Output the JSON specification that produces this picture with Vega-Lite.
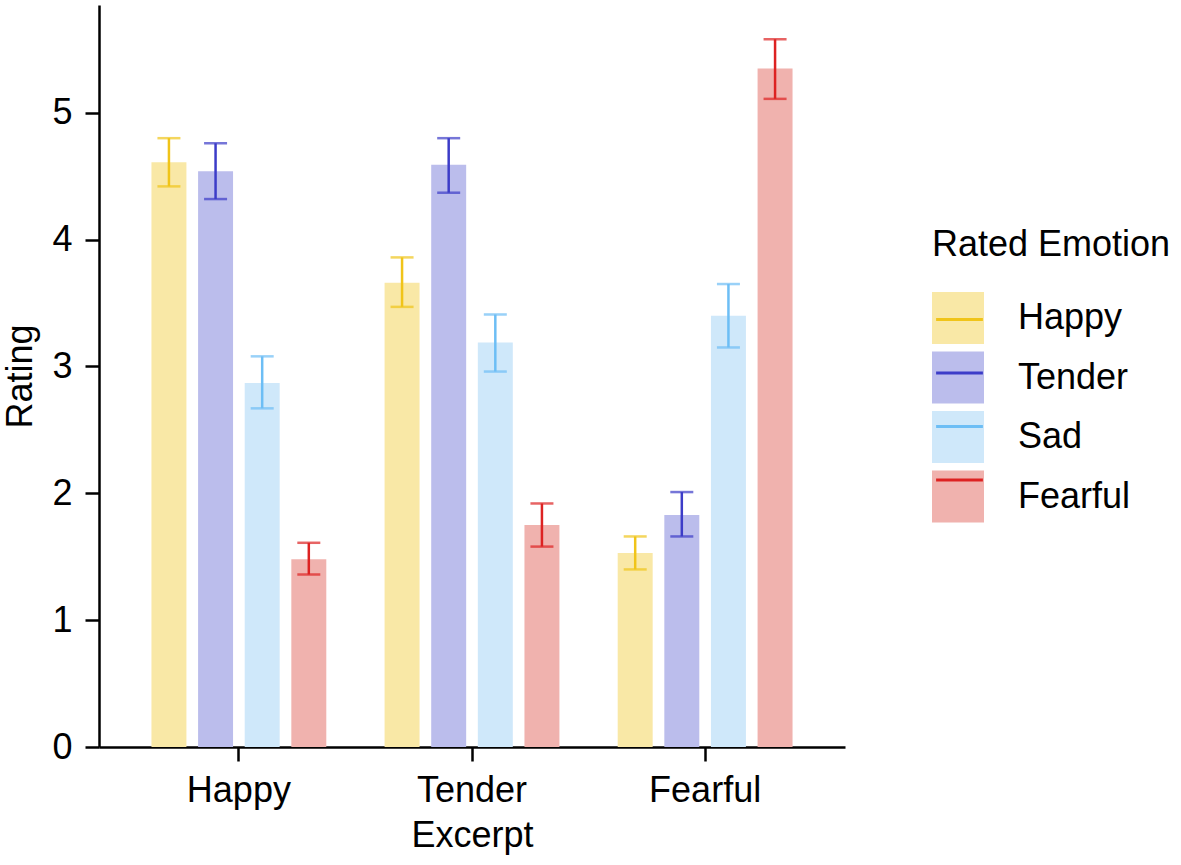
{
  "$schema": "https://vega.github.io/schema/vega-lite/v6.json",
  "autosize": "none",
  "width": 746,
  "height": 742,
  "padding": {"left": 99, "top": 5, "right": 336, "bottom": 118},
  "data": {
    "values": [
      {"excerpt": "Happy", "emotion": "Happy", "mean": 4.61, "lo": 4.42, "hi": 4.80},
      {"excerpt": "Happy", "emotion": "Tender", "mean": 4.54, "lo": 4.32, "hi": 4.76},
      {"excerpt": "Happy", "emotion": "Sad", "mean": 2.87, "lo": 2.67, "hi": 3.08},
      {"excerpt": "Happy", "emotion": "Fearful", "mean": 1.48, "lo": 1.36, "hi": 1.61},
      {"excerpt": "Tender", "emotion": "Happy", "mean": 3.66, "lo": 3.47, "hi": 3.86},
      {"excerpt": "Tender", "emotion": "Tender", "mean": 4.59, "lo": 4.37, "hi": 4.80},
      {"excerpt": "Tender", "emotion": "Sad", "mean": 3.19, "lo": 2.96, "hi": 3.41},
      {"excerpt": "Tender", "emotion": "Fearful", "mean": 1.75, "lo": 1.58, "hi": 1.92},
      {"excerpt": "Fearful", "emotion": "Happy", "mean": 1.53, "lo": 1.40, "hi": 1.66},
      {"excerpt": "Fearful", "emotion": "Tender", "mean": 1.83, "lo": 1.66, "hi": 2.01},
      {"excerpt": "Fearful", "emotion": "Sad", "mean": 3.40, "lo": 3.15, "hi": 3.65},
      {"excerpt": "Fearful", "emotion": "Fearful", "mean": 5.35, "lo": 5.11, "hi": 5.58}
    ]
  },
  "encoding": {
    "x": {
      "field": "excerpt",
      "type": "nominal",
      "sort": ["Happy", "Tender", "Fearful"],
      "scale": {"paddingInner": 0.2, "paddingOuter": 0.2},
      "axis": {"title": "Excerpt", "labelAngle": 0, "labelPadding": 12, "titlePadding": 10}
    },
    "xOffset": {
      "field": "emotion",
      "type": "nominal",
      "sort": ["Happy", "Tender", "Sad", "Fearful"],
      "scale": {"paddingInner": 0.25, "paddingOuter": 0.125}
    }
  },
  "layer": [
    {
      "mark": {"type": "bar", "strokeWidth": 0},
      "encoding": {
        "y": {
          "field": "mean",
          "type": "quantitative",
          "scale": {"domain": [0, 5.85], "nice": false},
          "axis": {"title": "Rating", "values": [0, 1, 2, 3, 4, 5], "format": "d", "labelPadding": 13, "titlePadding": 12}
        },
        "fill": {
          "field": "emotion",
          "type": "nominal",
          "scale": {
            "domain": ["Happy", "Tender", "Sad", "Fearful"],
            "range": ["#F9E8A6", "#BBBDEC", "#CFE8FA", "#F0B2AE"]
          },
          "legend": {
            "title": "Rated Emotion",
            "titleLimit": 400,
            "orient": "none",
            "legendX": 833,
            "legendY": 223,
            "symbolType": "square",
            "symbolSize": 2704,
            "symbolStrokeWidth": 0,
            "rowPadding": 7.5,
            "labelOffset": 34,
            "titlePadding": 28,
            "padding": 0
          }
        }
      }
    },
    {
      "mark": {"type": "rule", "strokeWidth": 2.5},
      "encoding": {
        "y": {"field": "lo", "type": "quantitative"},
        "y2": {"field": "hi"},
        "stroke": {
          "field": "emotion",
          "type": "nominal",
          "sort": null,
          "scale": {"range": ["#F0C419", "#3C3CC8", "#6DBEF5", "#DD2222"]},
          "legend": {
            "title": " ",
            "orient": "none",
            "legendX": 833,
            "legendY": 223,
            "symbolType": "M-0.9,0H0.9",
            "symbolSize": 2704,
            "symbolStrokeWidth": 3,
            "rowPadding": 7.5,
            "labelOffset": 34,
            "labelExpr": "''",
            "titlePadding": 28,
            "padding": 0
          }
        }
      }
    },
    {
      "mark": {"type": "tick", "size": 23, "thickness": 2.5},
      "encoding": {
        "y": {"field": "lo", "type": "quantitative"},
        "color": {"field": "emotion", "type": "nominal", "sort": null, "scale": {"range": ["#F0C419", "#3C3CC8", "#6DBEF5", "#DD2222"]}, "legend": null}
      }
    },
    {
      "mark": {"type": "tick", "size": 23, "thickness": 2.5},
      "encoding": {
        "y": {"field": "hi", "type": "quantitative"},
        "color": {"field": "emotion", "type": "nominal", "sort": null, "legend": null}
      }
    }
  ],
  "config": {
    "font": "Liberation Sans",
    "view": {"stroke": null},
    "axis": {
      "grid": false,
      "domainColor": "black",
      "domainWidth": 2.5,
      "tickColor": "black",
      "tickWidth": 2.5,
      "tickSize": 14,
      "labelColor": "black",
      "labelFontSize": 36,
      "titleFontSize": 36,
      "titleFontWeight": "normal",
      "titleColor": "black"
    },
    "legend": {
      "labelFontSize": 36,
      "titleFontSize": 36,
      "titleFontWeight": "normal",
      "labelColor": "black",
      "titleColor": "black"
    }
  }
}
